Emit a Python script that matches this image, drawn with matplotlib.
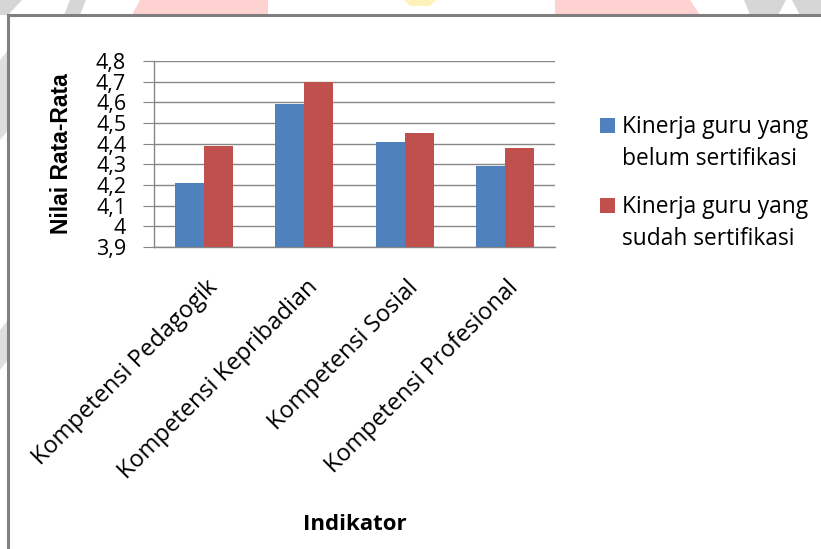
import numpy as np
import matplotlib.pyplot as plt
from matplotlib.patches import Rectangle, Polygon
from matplotlib.transforms import ScaledTranslation

# data
kategori = ['Kompetensi Pedagogik', 'Kompetensi Kepribadian',
            'Kompetensi Sosial', 'Kompetensi Profesional']
belum = [4.21, 4.59, 4.41, 4.29]
sudah = [4.39, 4.70, 4.45, 4.38]
seri = ['Kinerja guru yang\nbelum sertifikasi',
        'Kinerja guru yang\nsudah sertifikasi']
y_ticks = [3.9, 4.0, 4.1, 4.2, 4.3, 4.4, 4.5, 4.6, 4.7, 4.8]
y_labels = ['3,9', '4', '4,1', '4,2', '4,3', '4,4', '4,5', '4,6', '4,7', '4,8']

W, H = 821, 549
BIRU = '#4f81bd'
MERAH = '#c0504d'
ABU = '#868686'

fig = plt.figure(figsize=(W / 100, H / 100), dpi=100)
fig.patch.set_facecolor('white')


def px(x, y):
    # pixel (from top-left) -> figure fraction
    return (x / W, 1 - y / H)


# faint background behind the chart frame
latar = [
    ([(0, 0), (22, 0), (8, 15), (0, 15)], '#d6d6d6'),
    ([(70, 0), (86, 0), (80, 15), (64, 15)], '#d6d6d6'),
    ([(140, 0), (268, 0), (268, 15), (132, 15)], '#ffd2d2'),
    ([(404, 0), (436, 0), (430, 6), (410, 6)], '#fff2b8'),
    ([(555, 0), (690, 0), (700, 15), (555, 15)], '#ffd2d2'),
    ([(744, 0), (786, 0), (778, 15), (750, 15)], '#d6d6d6'),
    ([(792, 0), (821, 0), (821, 15), (800, 15)], '#d6d6d6'),
    ([(0, 60), (8, 50), (8, 130), (0, 140)], '#dedede'),
    ([(0, 330), (8, 320), (8, 360), (0, 370)], '#dedede'),
]
for pts, warna in latar:
    fig.patches.append(Polygon([px(*p) for p in pts], closed=True,
                               transform=fig.transFigure, facecolor=warna,
                               edgecolor='none', zorder=0))

# chart frame
x0, y0 = px(8, 15)
fig.patches.append(Rectangle((x0, -0.05), 1.2, y0 + 0.05, transform=fig.transFigure,
                             facecolor='white', edgecolor='#7f7f7f', linewidth=2.2,
                             zorder=1))

ax = fig.add_axes([154 / W, 1 - 247 / H, 401 / W, 186 / H])
ax.set_zorder(2)
ax.patch.set_alpha(0)

x = np.arange(len(kategori))
lebar = 0.29
ax.bar(x - lebar / 2, belum, lebar, color=BIRU, zorder=3)
ax.bar(x + lebar / 2, sudah, lebar, color=MERAH, zorder=3)

ax.set_xlim(-0.5, len(kategori) - 0.5)
ax.set_ylim(3.9, 4.8)
ax.set_yticks(y_ticks)
ax.set_yticklabels(y_labels, fontsize=15.5, family='Open Sans')
ax.yaxis.grid(True, color=ABU, linewidth=1)
ax.set_axisbelow(True)

for s in ['top', 'right']:
    ax.spines[s].set_visible(False)
for s in ['left', 'bottom']:
    ax.spines[s].set_color(ABU)
    ax.spines[s].set_linewidth(1)

ax.tick_params(axis='y', length=8, color=ABU, pad=12)
ax.tick_params(axis='x', length=0, pad=20.5)
ax.set_xticks(x)
ax.set_xticklabels(kategori, rotation=45, ha='right', va='top',
                   rotation_mode='anchor', fontsize=17, family='Open Sans')
geser = ScaledTranslation(2 / 100, 0, fig.dpi_scale_trans)
for lbl in ax.get_xticklabels():
    lbl.set_transform(lbl.get_transform() + geser)

ax.set_ylabel('Nilai Rata-Rata', fontsize=16.5, fontweight='bold',
              family='Liberation Sans')
ax.yaxis.set_label_coords((73 - 154) / 401, 0.5)

fig.text(355 / W, 1 - 524 / H, 'Indikator', fontsize=16, fontweight='bold',
         family='Open Sans', ha='center', va='center')

# legend: square aligned with the first line of each two-line label
for i, (nama, warna) in enumerate(zip(seri, [BIRU, MERAH])):
    atas = 118 + 80 * i
    fig.patches.append(Rectangle(px(600, atas + 15), 15 / W, 15 / H,
                                 transform=fig.transFigure, facecolor=warna,
                                 edgecolor='none', zorder=2))
    for j, baris in enumerate(nama.split('\n')):
        fig.text(*px(622, atas + 15 + 32 * j), baris, fontsize=16.4,
                 family='Open Sans', ha='left', va='baseline')

fig.savefig('out.png', dpi=100)
